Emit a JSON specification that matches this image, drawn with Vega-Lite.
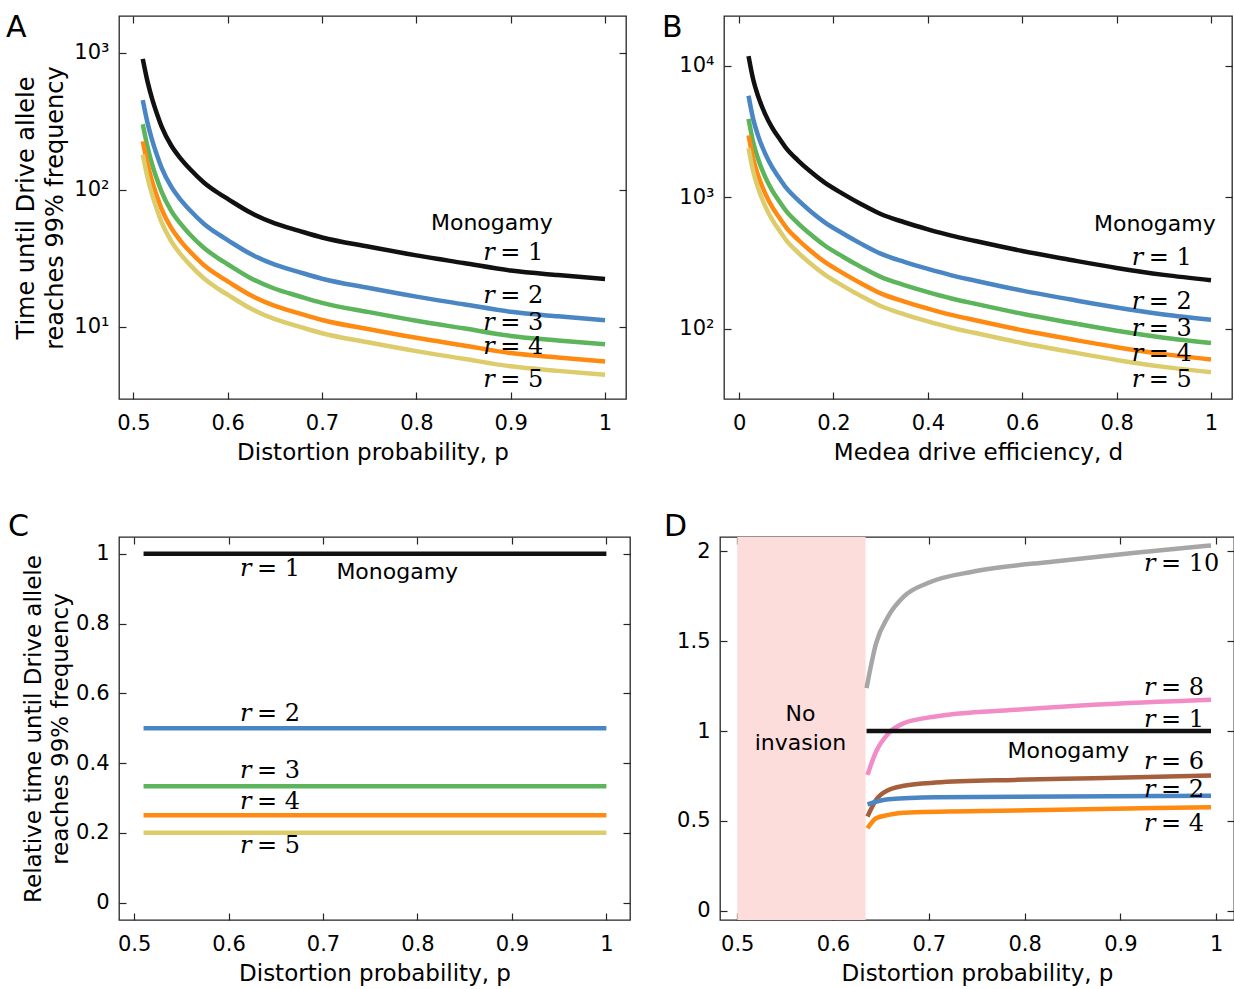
{
  "$schema": "https://vega.github.io/schema/vega-lite/v6.json",
  "background": "white",
  "padding": {"left": 5, "top": 12, "right": 0, "bottom": 0},
  "datasets": {
    "lines": [
      {"panel":"A","series":"r1","x":0.51,"y":905},{"panel":"A","series":"r1","x":0.515,"y":620},{"panel":"A","series":"r1","x":0.52,"y":460},{"panel":"A","series":"r1","x":0.525,"y":360},{"panel":"A","series":"r1","x":0.53,"y":290},{"panel":"A","series":"r1","x":0.54,"y":212},{"panel":"A","series":"r1","x":0.55,"y":170},{"panel":"A","series":"r1","x":0.56,"y":142},{"panel":"A","series":"r1","x":0.575,"y":113},{"panel":"A","series":"r1","x":0.59,"y":95},{"panel":"A","series":"r1","x":0.6,"y":86},{"panel":"A","series":"r1","x":0.625,"y":67.8},{"panel":"A","series":"r1","x":0.65,"y":57},{"panel":"A","series":"r1","x":0.675,"y":50.5},{"panel":"A","series":"r1","x":0.7,"y":45},{"panel":"A","series":"r1","x":0.75,"y":38.5},{"panel":"A","series":"r1","x":0.8,"y":33.3},{"panel":"A","series":"r1","x":0.85,"y":29.3},{"panel":"A","series":"r1","x":0.9,"y":25.8},{"panel":"A","series":"r1","x":0.95,"y":23.9},{"panel":"A","series":"r1","x":1.0,"y":22.4},
      {"panel":"A","series":"r2","x":0.51,"y":452.5},{"panel":"A","series":"r2","x":0.515,"y":310},{"panel":"A","series":"r2","x":0.52,"y":230},{"panel":"A","series":"r2","x":0.525,"y":180},{"panel":"A","series":"r2","x":0.53,"y":145},{"panel":"A","series":"r2","x":0.54,"y":106},{"panel":"A","series":"r2","x":0.55,"y":85},{"panel":"A","series":"r2","x":0.56,"y":71},{"panel":"A","series":"r2","x":0.575,"y":56.5},{"panel":"A","series":"r2","x":0.59,"y":47.5},{"panel":"A","series":"r2","x":0.6,"y":43},{"panel":"A","series":"r2","x":0.625,"y":33.9},{"panel":"A","series":"r2","x":0.65,"y":28.5},{"panel":"A","series":"r2","x":0.675,"y":25.25},{"panel":"A","series":"r2","x":0.7,"y":22.5},{"panel":"A","series":"r2","x":0.75,"y":19.25},{"panel":"A","series":"r2","x":0.8,"y":16.65},{"panel":"A","series":"r2","x":0.85,"y":14.65},{"panel":"A","series":"r2","x":0.9,"y":12.9},{"panel":"A","series":"r2","x":0.95,"y":11.95},{"panel":"A","series":"r2","x":1.0,"y":11.2},
      {"panel":"A","series":"r3","x":0.51,"y":301.7},{"panel":"A","series":"r3","x":0.515,"y":206.7},{"panel":"A","series":"r3","x":0.52,"y":153.3},{"panel":"A","series":"r3","x":0.525,"y":120},{"panel":"A","series":"r3","x":0.53,"y":96.7},{"panel":"A","series":"r3","x":0.54,"y":70.7},{"panel":"A","series":"r3","x":0.55,"y":56.7},{"panel":"A","series":"r3","x":0.56,"y":47.3},{"panel":"A","series":"r3","x":0.575,"y":37.7},{"panel":"A","series":"r3","x":0.59,"y":31.7},{"panel":"A","series":"r3","x":0.6,"y":28.7},{"panel":"A","series":"r3","x":0.625,"y":22.6},{"panel":"A","series":"r3","x":0.65,"y":19},{"panel":"A","series":"r3","x":0.675,"y":16.83},{"panel":"A","series":"r3","x":0.7,"y":15},{"panel":"A","series":"r3","x":0.75,"y":12.83},{"panel":"A","series":"r3","x":0.8,"y":11.1},{"panel":"A","series":"r3","x":0.85,"y":9.77},{"panel":"A","series":"r3","x":0.9,"y":8.6},{"panel":"A","series":"r3","x":0.95,"y":7.97},{"panel":"A","series":"r3","x":1.0,"y":7.47},
      {"panel":"A","series":"r4","x":0.51,"y":226.3},{"panel":"A","series":"r4","x":0.515,"y":155},{"panel":"A","series":"r4","x":0.52,"y":115},{"panel":"A","series":"r4","x":0.525,"y":90},{"panel":"A","series":"r4","x":0.53,"y":72.5},{"panel":"A","series":"r4","x":0.54,"y":53},{"panel":"A","series":"r4","x":0.55,"y":42.5},{"panel":"A","series":"r4","x":0.56,"y":35.5},{"panel":"A","series":"r4","x":0.575,"y":28.25},{"panel":"A","series":"r4","x":0.59,"y":23.75},{"panel":"A","series":"r4","x":0.6,"y":21.5},{"panel":"A","series":"r4","x":0.625,"y":16.95},{"panel":"A","series":"r4","x":0.65,"y":14.25},{"panel":"A","series":"r4","x":0.675,"y":12.63},{"panel":"A","series":"r4","x":0.7,"y":11.25},{"panel":"A","series":"r4","x":0.75,"y":9.63},{"panel":"A","series":"r4","x":0.8,"y":8.33},{"panel":"A","series":"r4","x":0.85,"y":7.33},{"panel":"A","series":"r4","x":0.9,"y":6.45},{"panel":"A","series":"r4","x":0.95,"y":5.98},{"panel":"A","series":"r4","x":1.0,"y":5.6},
      {"panel":"A","series":"r5","x":0.51,"y":181},{"panel":"A","series":"r5","x":0.515,"y":124},{"panel":"A","series":"r5","x":0.52,"y":92},{"panel":"A","series":"r5","x":0.525,"y":72},{"panel":"A","series":"r5","x":0.53,"y":58},{"panel":"A","series":"r5","x":0.54,"y":42.4},{"panel":"A","series":"r5","x":0.55,"y":34},{"panel":"A","series":"r5","x":0.56,"y":28.4},{"panel":"A","series":"r5","x":0.575,"y":22.6},{"panel":"A","series":"r5","x":0.59,"y":19},{"panel":"A","series":"r5","x":0.6,"y":17.2},{"panel":"A","series":"r5","x":0.625,"y":13.56},{"panel":"A","series":"r5","x":0.65,"y":11.4},{"panel":"A","series":"r5","x":0.675,"y":10.1},{"panel":"A","series":"r5","x":0.7,"y":9},{"panel":"A","series":"r5","x":0.75,"y":7.7},{"panel":"A","series":"r5","x":0.8,"y":6.66},{"panel":"A","series":"r5","x":0.85,"y":5.86},{"panel":"A","series":"r5","x":0.9,"y":5.16},{"panel":"A","series":"r5","x":0.95,"y":4.78},{"panel":"A","series":"r5","x":1.0,"y":4.48},

      {"panel":"B","series":"r1","x":0.02,"y":11800},{"panel":"B","series":"r1","x":0.03,"y":7800},{"panel":"B","series":"r1","x":0.04,"y":5900},{"panel":"B","series":"r1","x":0.055,"y":4300},{"panel":"B","series":"r1","x":0.07,"y":3380},{"panel":"B","series":"r1","x":0.085,"y":2800},{"panel":"B","series":"r1","x":0.1,"y":2350},{"panel":"B","series":"r1","x":0.125,"y":1900},{"panel":"B","series":"r1","x":0.15,"y":1580},{"panel":"B","series":"r1","x":0.18,"y":1300},{"panel":"B","series":"r1","x":0.22,"y":1060},{"panel":"B","series":"r1","x":0.26,"y":880},{"panel":"B","series":"r1","x":0.3,"y":745},{"panel":"B","series":"r1","x":0.35,"y":645},{"panel":"B","series":"r1","x":0.4,"y":570},{"panel":"B","series":"r1","x":0.45,"y":510},{"panel":"B","series":"r1","x":0.5,"y":465},{"panel":"B","series":"r1","x":0.6,"y":390},{"panel":"B","series":"r1","x":0.7,"y":335},{"panel":"B","series":"r1","x":0.8,"y":290},{"panel":"B","series":"r1","x":0.9,"y":257},{"panel":"B","series":"r1","x":1.0,"y":234},
      {"panel":"B","series":"r2","x":0.02,"y":5900},{"panel":"B","series":"r2","x":0.03,"y":3900},{"panel":"B","series":"r2","x":0.04,"y":2950},{"panel":"B","series":"r2","x":0.055,"y":2150},{"panel":"B","series":"r2","x":0.07,"y":1690},{"panel":"B","series":"r2","x":0.085,"y":1400},{"panel":"B","series":"r2","x":0.1,"y":1175},{"panel":"B","series":"r2","x":0.125,"y":950},{"panel":"B","series":"r2","x":0.15,"y":790},{"panel":"B","series":"r2","x":0.18,"y":650},{"panel":"B","series":"r2","x":0.22,"y":530},{"panel":"B","series":"r2","x":0.26,"y":440},{"panel":"B","series":"r2","x":0.3,"y":372.5},{"panel":"B","series":"r2","x":0.35,"y":322.5},{"panel":"B","series":"r2","x":0.4,"y":285},{"panel":"B","series":"r2","x":0.45,"y":255},{"panel":"B","series":"r2","x":0.5,"y":232.5},{"panel":"B","series":"r2","x":0.6,"y":195},{"panel":"B","series":"r2","x":0.7,"y":167.5},{"panel":"B","series":"r2","x":0.8,"y":145},{"panel":"B","series":"r2","x":0.9,"y":128.5},{"panel":"B","series":"r2","x":1.0,"y":117},
      {"panel":"B","series":"r3","x":0.02,"y":3933},{"panel":"B","series":"r3","x":0.03,"y":2600},{"panel":"B","series":"r3","x":0.04,"y":1967},{"panel":"B","series":"r3","x":0.055,"y":1433},{"panel":"B","series":"r3","x":0.07,"y":1127},{"panel":"B","series":"r3","x":0.085,"y":933},{"panel":"B","series":"r3","x":0.1,"y":783},{"panel":"B","series":"r3","x":0.125,"y":633},{"panel":"B","series":"r3","x":0.15,"y":527},{"panel":"B","series":"r3","x":0.18,"y":433},{"panel":"B","series":"r3","x":0.22,"y":353},{"panel":"B","series":"r3","x":0.26,"y":293},{"panel":"B","series":"r3","x":0.3,"y":248},{"panel":"B","series":"r3","x":0.35,"y":215},{"panel":"B","series":"r3","x":0.4,"y":190},{"panel":"B","series":"r3","x":0.45,"y":170},{"panel":"B","series":"r3","x":0.5,"y":155},{"panel":"B","series":"r3","x":0.6,"y":130},{"panel":"B","series":"r3","x":0.7,"y":111.7},{"panel":"B","series":"r3","x":0.8,"y":96.7},{"panel":"B","series":"r3","x":0.9,"y":85.7},{"panel":"B","series":"r3","x":1.0,"y":78},
      {"panel":"B","series":"r4","x":0.02,"y":2950},{"panel":"B","series":"r4","x":0.03,"y":1950},{"panel":"B","series":"r4","x":0.04,"y":1475},{"panel":"B","series":"r4","x":0.055,"y":1075},{"panel":"B","series":"r4","x":0.07,"y":845},{"panel":"B","series":"r4","x":0.085,"y":700},{"panel":"B","series":"r4","x":0.1,"y":587.5},{"panel":"B","series":"r4","x":0.125,"y":475},{"panel":"B","series":"r4","x":0.15,"y":395},{"panel":"B","series":"r4","x":0.18,"y":325},{"panel":"B","series":"r4","x":0.22,"y":265},{"panel":"B","series":"r4","x":0.26,"y":220},{"panel":"B","series":"r4","x":0.3,"y":186},{"panel":"B","series":"r4","x":0.35,"y":161},{"panel":"B","series":"r4","x":0.4,"y":142.5},{"panel":"B","series":"r4","x":0.45,"y":127.5},{"panel":"B","series":"r4","x":0.5,"y":116.25},{"panel":"B","series":"r4","x":0.6,"y":97.5},{"panel":"B","series":"r4","x":0.7,"y":83.75},{"panel":"B","series":"r4","x":0.8,"y":72.5},{"panel":"B","series":"r4","x":0.9,"y":64.25},{"panel":"B","series":"r4","x":1.0,"y":58.5},
      {"panel":"B","series":"r5","x":0.02,"y":2360},{"panel":"B","series":"r5","x":0.03,"y":1560},{"panel":"B","series":"r5","x":0.04,"y":1180},{"panel":"B","series":"r5","x":0.055,"y":860},{"panel":"B","series":"r5","x":0.07,"y":676},{"panel":"B","series":"r5","x":0.085,"y":560},{"panel":"B","series":"r5","x":0.1,"y":470},{"panel":"B","series":"r5","x":0.125,"y":380},{"panel":"B","series":"r5","x":0.15,"y":316},{"panel":"B","series":"r5","x":0.18,"y":260},{"panel":"B","series":"r5","x":0.22,"y":212},{"panel":"B","series":"r5","x":0.26,"y":176},{"panel":"B","series":"r5","x":0.3,"y":149},{"panel":"B","series":"r5","x":0.35,"y":129},{"panel":"B","series":"r5","x":0.4,"y":114},{"panel":"B","series":"r5","x":0.45,"y":102},{"panel":"B","series":"r5","x":0.5,"y":93},{"panel":"B","series":"r5","x":0.6,"y":78},{"panel":"B","series":"r5","x":0.7,"y":67},{"panel":"B","series":"r5","x":0.8,"y":58},{"panel":"B","series":"r5","x":0.9,"y":51.4},{"panel":"B","series":"r5","x":1.0,"y":46.8},

      {"panel":"C","series":"r1","x":0.51,"y":1},{"panel":"C","series":"r1","x":1.0,"y":1},
      {"panel":"C","series":"r2","x":0.51,"y":0.5},{"panel":"C","series":"r2","x":1.0,"y":0.5},
      {"panel":"C","series":"r3","x":0.51,"y":0.3333},{"panel":"C","series":"r3","x":1.0,"y":0.3333},
      {"panel":"C","series":"r4","x":0.51,"y":0.25},{"panel":"C","series":"r4","x":1.0,"y":0.25},
      {"panel":"C","series":"r5","x":0.51,"y":0.2},{"panel":"C","series":"r5","x":1.0,"y":0.2},

      {"panel":"D","series":"r10","x":0.635,"y":1.239},{"panel":"D","series":"r10","x":0.645,"y":1.489},{"panel":"D","series":"r10","x":0.6576,"y":1.638},{"panel":"D","series":"r10","x":0.674,"y":1.749},{"panel":"D","series":"r10","x":0.699,"y":1.824},{"panel":"D","series":"r10","x":0.748,"y":1.889},{"panel":"D","series":"r10","x":0.831,"y":1.944},{"panel":"D","series":"r10","x":0.913,"y":1.991},{"panel":"D","series":"r10","x":0.9946,"y":2.033},
      {"panel":"D","series":"r8","x":0.636,"y":0.756},{"panel":"D","series":"r8","x":0.645,"y":0.886},{"panel":"D","series":"r8","x":0.658,"y":0.988},{"panel":"D","series":"r8","x":0.674,"y":1.044},{"panel":"D","series":"r8","x":0.707,"y":1.081},{"panel":"D","series":"r8","x":0.79,"y":1.118},{"panel":"D","series":"r8","x":0.872,"y":1.146},{"panel":"D","series":"r8","x":0.9946,"y":1.174},
      {"panel":"D","series":"r1","x":0.635,"y":1},{"panel":"D","series":"r1","x":0.9946,"y":1},
      {"panel":"D","series":"r6","x":0.636,"y":0.524},{"panel":"D","series":"r6","x":0.645,"y":0.617},{"panel":"D","series":"r6","x":0.658,"y":0.672},{"panel":"D","series":"r6","x":0.674,"y":0.695},{"panel":"D","series":"r6","x":0.707,"y":0.713},{"panel":"D","series":"r6","x":0.79,"y":0.728},{"panel":"D","series":"r6","x":0.872,"y":0.737},{"panel":"D","series":"r6","x":0.9946,"y":0.752},
      {"panel":"D","series":"r2","x":0.636,"y":0.592},{"panel":"D","series":"r2","x":0.658,"y":0.62},{"panel":"D","series":"r2","x":0.707,"y":0.631},{"panel":"D","series":"r2","x":0.9946,"y":0.64},
      {"panel":"D","series":"r4","x":0.636,"y":0.459},{"panel":"D","series":"r4","x":0.645,"y":0.514},{"panel":"D","series":"r4","x":0.658,"y":0.533},{"panel":"D","series":"r4","x":0.68,"y":0.546},{"panel":"D","series":"r4","x":0.79,"y":0.557},{"panel":"D","series":"r4","x":0.9946,"y":0.576}
    ],
    "rlabels": [
      {"panel":"A","x":0.8708,"y":34.7,"v":"r","eq":"= 1"},{"panel":"A","x":0.8708,"y":16.8,"v":"r","eq":"= 2"},{"panel":"A","x":0.8708,"y":10.7,"v":"r","eq":"= 3"},{"panel":"A","x":0.8708,"y":7.14,"v":"r","eq":"= 4"},{"panel":"A","x":0.8708,"y":4.1,"v":"r","eq":"= 5"},
      {"panel":"B","x":0.832,"y":347,"v":"r","eq":"= 1"},{"panel":"B","x":0.832,"y":160,"v":"r","eq":"= 2"},{"panel":"B","x":0.832,"y":100,"v":"r","eq":"= 3"},{"panel":"B","x":0.832,"y":64.6,"v":"r","eq":"= 4"},{"panel":"B","x":0.832,"y":40.8,"v":"r","eq":"= 5"},
      {"panel":"C","x":0.612,"y":0.957,"v":"r","eq":"= 1"},{"panel":"C","x":0.612,"y":0.54,"v":"r","eq":"= 2"},{"panel":"C","x":0.612,"y":0.3775,"v":"r","eq":"= 3"},{"panel":"C","x":0.612,"y":0.2877,"v":"r","eq":"= 4"},{"panel":"C","x":0.612,"y":0.1635,"v":"r","eq":"= 5"},
      {"panel":"D","x":0.9247,"y":1.93,"v":"r","eq":"= 10"},{"panel":"D","x":0.9247,"y":1.241,"v":"r","eq":"= 8"},{"panel":"D","x":0.9247,"y":1.064,"v":"r","eq":"= 1"},{"panel":"D","x":0.9247,"y":0.829,"v":"r","eq":"= 6"},{"panel":"D","x":0.9247,"y":0.671,"v":"r","eq":"= 2"},{"panel":"D","x":0.9247,"y":0.483,"v":"r","eq":"= 4"}
    ],
    "notes": [
      {"panel":"A","x":0.88,"y":57.4,"text":"Monogamy"},
      {"panel":"B","x":0.881,"y":628,"text":"Monogamy"},
      {"panel":"C","x":0.7786,"y":0.947,"text":"Monogamy"},
      {"panel":"D","x":0.8457,"y":0.8875,"text":"Monogamy"},
      {"panel":"D","x":0.566,"y":1.093,"text":"No"},
      {"panel":"D","x":0.566,"y":0.932,"text":"invasion"}
    ],
    "shade": [{"panel":"D","x":0.5,"x2":0.634}]
  },
  "vconcat": [
    {
      "spacing": 33,
      "hconcat": [
        {
          "width": 507, "height": 383,
          "title": {"text": "A", "anchor": "start", "frame": "group", "dx": -113, "offset": -52, "baseline": "alphabetic"},
          "layer": [
            {"data": {"name": "lines"}, "transform": [{"filter": "datum.panel == 'A'"}],
             "mark": {"type": "line", "strokeWidth": 4.5, "strokeCap": "butt", "interpolate": "monotone"},
             "encoding": {
               "x": {"field": "x", "type": "quantitative", "scale": {"domain": [0.4848, 1.0222], "nice": false, "zero": false}, "axis": {"values": [0.5,0.6,0.7,0.8,0.9,1], "format": "~g", "title": "Distortion probability, p"}},
               "y": {"field": "y", "type": "quantitative", "scale": {"type": "log", "domain": [2.98, 1860], "nice": false}, "axis": {"values": [10,100,1000], "labelExpr": "datum.value == 10 ? '10¹' : datum.value == 100 ? '10²' : '10³'", "title": ["Time until Drive allele", "reaches 99% frequency"]}},
               "color": {"field": "series", "type": "nominal", "scale": {"domain": ["r1","r2","r3","r4","r5","r6","r8","r10"], "range": ["#111111","#4a86c4","#5cb55a","#ff8a12","#dccc6c","#a65f3c","#f28cc6","#a6a6a6"]}, "legend": null}
             }},
            {"data": {"name": "rlabels"}, "transform": [{"filter": "datum.panel == 'A'"}],
             "mark": {"type": "text", "font": "DejaVu Serif", "fontStyle": "italic", "fontSize": 24, "align": "left", "baseline": "middle"},
             "encoding": {"x": {"field": "x", "type": "quantitative", "scale": {"domain": [0.4848, 1.0222], "nice": false, "zero": false}, "axis": null}, "y": {"field": "y", "type": "quantitative", "scale": {"type": "log", "domain": [2.98, 1860], "nice": false}, "axis": null}, "text": {"field": "v"}}},
            {"data": {"name": "rlabels"}, "transform": [{"filter": "datum.panel == 'A'"}],
             "mark": {"type": "text", "font": "DejaVu Serif", "fontSize": 24, "align": "left", "baseline": "middle", "dx": 17},
             "encoding": {"x": {"field": "x", "type": "quantitative", "scale": {"domain": [0.4848, 1.0222], "nice": false, "zero": false}, "axis": null}, "y": {"field": "y", "type": "quantitative", "scale": {"type": "log", "domain": [2.98, 1860], "nice": false}, "axis": null}, "text": {"field": "eq"}}},
            {"data": {"name": "notes"}, "transform": [{"filter": "datum.panel == 'A'"}],
             "mark": {"type": "text", "font": "DejaVu Sans", "fontSize": 22, "align": "center", "baseline": "middle"},
             "encoding": {"x": {"field": "x", "type": "quantitative", "scale": {"domain": [0.4848, 1.0222], "nice": false, "zero": false}, "axis": null}, "y": {"field": "y", "type": "quantitative", "scale": {"type": "log", "domain": [2.98, 1860], "nice": false}, "axis": null}, "text": {"field": "text"}}},
            {"data": {"name": "notes"}, "transform": [{"filter": "datum.panel == 'A'"}],
             "mark": {"type": "point", "opacity": 0},
             "encoding": {"x": {"field": "x", "type": "quantitative", "scale": {"domain": [0.4848, 1.0222], "nice": false, "zero": false}, "axis": {"orient": "top", "values": [0.5,0.6,0.7,0.8,0.9,1], "labels": false, "title": null, "minExtent": 0, "maxExtent": 0}}, "y": {"field": "y", "type": "quantitative", "scale": {"type": "log", "domain": [2.98, 1860], "nice": false}, "axis": {"orient": "right", "values": [10,100,1000], "labels": false, "title": null, "minExtent": 0, "maxExtent": 0}}}}
          ],
          "resolve": {"axis": {"x": "independent", "y": "independent"}}
        },
        {
          "width": 508, "height": 383,
          "title": {"text": "B", "anchor": "start", "frame": "group", "dx": -62, "offset": -52, "baseline": "alphabetic"},
          "layer": [
            {"data": {"name": "lines"}, "transform": [{"filter": "datum.panel == 'B'"}],
             "mark": {"type": "line", "strokeWidth": 4.5, "strokeCap": "butt", "interpolate": "monotone"},
             "encoding": {
               "x": {"field": "x", "type": "quantitative", "scale": {"domain": [-0.032, 1.0445], "nice": false, "zero": false}, "axis": {"values": [0,0.2,0.4,0.6,0.8,1], "format": "~g", "title": "Medea drive efficiency, d"}},
               "y": {"field": "y", "type": "quantitative", "scale": {"type": "log", "domain": [29.3, 23800], "nice": false}, "axis": {"values": [100,1000,10000], "labelExpr": "datum.value == 100 ? '10²' : datum.value == 1000 ? '10³' : '10⁴'", "title": null}},
               "color": {"field": "series", "type": "nominal", "scale": {"domain": ["r1","r2","r3","r4","r5","r6","r8","r10"], "range": ["#111111","#4a86c4","#5cb55a","#ff8a12","#dccc6c","#a65f3c","#f28cc6","#a6a6a6"]}, "legend": null}
             }},
            {"data": {"name": "rlabels"}, "transform": [{"filter": "datum.panel == 'B'"}],
             "mark": {"type": "text", "font": "DejaVu Serif", "fontStyle": "italic", "fontSize": 24, "align": "left", "baseline": "middle"},
             "encoding": {"x": {"field": "x", "type": "quantitative", "scale": {"domain": [-0.032, 1.0445], "nice": false, "zero": false}, "axis": null}, "y": {"field": "y", "type": "quantitative", "scale": {"type": "log", "domain": [29.3, 23800], "nice": false}, "axis": null}, "text": {"field": "v"}}},
            {"data": {"name": "rlabels"}, "transform": [{"filter": "datum.panel == 'B'"}],
             "mark": {"type": "text", "font": "DejaVu Serif", "fontSize": 24, "align": "left", "baseline": "middle", "dx": 17},
             "encoding": {"x": {"field": "x", "type": "quantitative", "scale": {"domain": [-0.032, 1.0445], "nice": false, "zero": false}, "axis": null}, "y": {"field": "y", "type": "quantitative", "scale": {"type": "log", "domain": [29.3, 23800], "nice": false}, "axis": null}, "text": {"field": "eq"}}},
            {"data": {"name": "notes"}, "transform": [{"filter": "datum.panel == 'B'"}],
             "mark": {"type": "text", "font": "DejaVu Sans", "fontSize": 22, "align": "center", "baseline": "middle"},
             "encoding": {"x": {"field": "x", "type": "quantitative", "scale": {"domain": [-0.032, 1.0445], "nice": false, "zero": false}, "axis": null}, "y": {"field": "y", "type": "quantitative", "scale": {"type": "log", "domain": [29.3, 23800], "nice": false}, "axis": null}, "text": {"field": "text"}}},
            {"data": {"name": "notes"}, "transform": [{"filter": "datum.panel == 'B'"}],
             "mark": {"type": "point", "opacity": 0},
             "encoding": {"x": {"field": "x", "type": "quantitative", "scale": {"domain": [-0.032, 1.0445], "nice": false, "zero": false}, "axis": {"orient": "top", "values": [0,0.2,0.4,0.6,0.8,1], "labels": false, "title": null, "minExtent": 0, "maxExtent": 0}}, "y": {"field": "y", "type": "quantitative", "scale": {"type": "log", "domain": [29.3, 23800], "nice": false}, "axis": {"orient": "right", "values": [100,1000,10000], "labels": false, "title": null, "minExtent": 0, "maxExtent": 0}}}}
          ],
          "resolve": {"axis": {"x": "independent", "y": "independent"}}
        }
      ]
    },
    {
      "spacing": 31,
      "hconcat": [
        {
          "width": 511, "height": 383,
          "title": {"text": "C", "anchor": "start", "frame": "group", "dx": -111, "offset": -30, "baseline": "alphabetic"},
          "layer": [
            {"data": {"name": "lines"}, "transform": [{"filter": "datum.panel == 'C'"}],
             "mark": {"type": "line", "strokeWidth": 4.5, "strokeCap": "butt"},
             "encoding": {
               "x": {"field": "x", "type": "quantitative", "scale": {"domain": [0.484, 1.025], "nice": false, "zero": false}, "axis": {"values": [0.5,0.6,0.7,0.8,0.9,1], "format": "~g", "title": "Distortion probability, p"}},
               "y": {"field": "y", "type": "quantitative", "scale": {"domain": [-0.05, 1.048], "nice": false, "zero": false}, "axis": {"values": [0,0.2,0.4,0.6,0.8,1], "format": "~g", "titlePadding": 3, "titleFontSize": 23, "titleLineHeight": 27, "title": ["Relative time until Drive allele", "reaches 99% frequency"]}},
               "color": {"field": "series", "type": "nominal", "scale": {"domain": ["r1","r2","r3","r4","r5","r6","r8","r10"], "range": ["#111111","#4a86c4","#5cb55a","#ff8a12","#dccc6c","#a65f3c","#f28cc6","#a6a6a6"]}, "legend": null}
             }},
            {"data": {"name": "rlabels"}, "transform": [{"filter": "datum.panel == 'C'"}],
             "mark": {"type": "text", "font": "DejaVu Serif", "fontStyle": "italic", "fontSize": 24, "align": "left", "baseline": "middle"},
             "encoding": {"x": {"field": "x", "type": "quantitative", "scale": {"domain": [0.484, 1.025], "nice": false, "zero": false}, "axis": null}, "y": {"field": "y", "type": "quantitative", "scale": {"domain": [-0.05, 1.048], "nice": false, "zero": false}, "axis": null}, "text": {"field": "v"}}},
            {"data": {"name": "rlabels"}, "transform": [{"filter": "datum.panel == 'C'"}],
             "mark": {"type": "text", "font": "DejaVu Serif", "fontSize": 24, "align": "left", "baseline": "middle", "dx": 17},
             "encoding": {"x": {"field": "x", "type": "quantitative", "scale": {"domain": [0.484, 1.025], "nice": false, "zero": false}, "axis": null}, "y": {"field": "y", "type": "quantitative", "scale": {"domain": [-0.05, 1.048], "nice": false, "zero": false}, "axis": null}, "text": {"field": "eq"}}},
            {"data": {"name": "notes"}, "transform": [{"filter": "datum.panel == 'C'"}],
             "mark": {"type": "text", "font": "DejaVu Sans", "fontSize": 22, "align": "center", "baseline": "middle"},
             "encoding": {"x": {"field": "x", "type": "quantitative", "scale": {"domain": [0.484, 1.025], "nice": false, "zero": false}, "axis": null}, "y": {"field": "y", "type": "quantitative", "scale": {"domain": [-0.05, 1.048], "nice": false, "zero": false}, "axis": null}, "text": {"field": "text"}}},
            {"data": {"name": "notes"}, "transform": [{"filter": "datum.panel == 'C'"}],
             "mark": {"type": "point", "opacity": 0},
             "encoding": {"x": {"field": "x", "type": "quantitative", "scale": {"domain": [0.484, 1.025], "nice": false, "zero": false}, "axis": {"orient": "top", "values": [0.5,0.6,0.7,0.8,0.9,1], "labels": false, "title": null, "minExtent": 0, "maxExtent": 0}}, "y": {"field": "y", "type": "quantitative", "scale": {"domain": [-0.05, 1.048], "nice": false, "zero": false}, "axis": {"orient": "right", "values": [0,0.2,0.4,0.6,0.8,1], "labels": false, "title": null, "minExtent": 0, "maxExtent": 0}}}}
          ],
          "resolve": {"axis": {"x": "independent", "y": "independent"}}
        },
        {
          "width": 514, "height": 383,
          "title": {"text": "D", "anchor": "start", "frame": "group", "dx": -56, "offset": -30, "baseline": "alphabetic"},
          "layer": [
            {"data": {"name": "shade"},
             "mark": {"type": "rect", "color": "#fddcdc"},
             "encoding": {"x": {"field": "x", "type": "quantitative", "scale": {"domain": [0.482, 1.0186], "nice": false, "zero": false}, "axis": null}, "x2": {"field": "x2"}}},
            {"data": {"name": "lines"}, "transform": [{"filter": "datum.panel == 'D'"}],
             "mark": {"type": "line", "strokeWidth": 4.5, "strokeCap": "butt", "interpolate": "monotone"},
             "encoding": {
               "x": {"field": "x", "type": "quantitative", "scale": {"domain": [0.482, 1.0186], "nice": false, "zero": false}, "axis": {"values": [0.5,0.6,0.7,0.8,0.9,1], "format": "~g", "title": "Distortion probability, p"}},
               "y": {"field": "y", "type": "quantitative", "scale": {"domain": [-0.052, 2.08], "nice": false, "zero": false}, "axis": {"values": [0,0.5,1,1.5,2], "format": "~g", "title": null}},
               "color": {"field": "series", "type": "nominal", "scale": {"domain": ["r1","r2","r3","r4","r5","r6","r8","r10"], "range": ["#111111","#4a86c4","#5cb55a","#ff8a12","#dccc6c","#a65f3c","#f28cc6","#a6a6a6"]}, "legend": null}
             }},
            {"data": {"name": "rlabels"}, "transform": [{"filter": "datum.panel == 'D'"}],
             "mark": {"type": "text", "font": "DejaVu Serif", "fontStyle": "italic", "fontSize": 24, "align": "left", "baseline": "middle"},
             "encoding": {"x": {"field": "x", "type": "quantitative", "scale": {"domain": [0.482, 1.0186], "nice": false, "zero": false}, "axis": null}, "y": {"field": "y", "type": "quantitative", "scale": {"domain": [-0.052, 2.08], "nice": false, "zero": false}, "axis": null}, "text": {"field": "v"}}},
            {"data": {"name": "rlabels"}, "transform": [{"filter": "datum.panel == 'D'"}],
             "mark": {"type": "text", "font": "DejaVu Serif", "fontSize": 24, "align": "left", "baseline": "middle", "dx": 17},
             "encoding": {"x": {"field": "x", "type": "quantitative", "scale": {"domain": [0.482, 1.0186], "nice": false, "zero": false}, "axis": null}, "y": {"field": "y", "type": "quantitative", "scale": {"domain": [-0.052, 2.08], "nice": false, "zero": false}, "axis": null}, "text": {"field": "eq"}}},
            {"data": {"name": "notes"}, "transform": [{"filter": "datum.panel == 'D'"}],
             "mark": {"type": "text", "font": "DejaVu Sans", "fontSize": 22, "align": "center", "baseline": "middle"},
             "encoding": {"x": {"field": "x", "type": "quantitative", "scale": {"domain": [0.482, 1.0186], "nice": false, "zero": false}, "axis": null}, "y": {"field": "y", "type": "quantitative", "scale": {"domain": [-0.052, 2.08], "nice": false, "zero": false}, "axis": null}, "text": {"field": "text"}}},
            {"data": {"name": "notes"}, "transform": [{"filter": "datum.panel == 'D'"}],
             "mark": {"type": "point", "opacity": 0},
             "encoding": {"x": {"field": "x", "type": "quantitative", "scale": {"domain": [0.482, 1.0186], "nice": false, "zero": false}, "axis": {"orient": "top", "values": [0.5,0.6,0.7,0.8,0.9,1], "labels": false, "title": null, "minExtent": 0, "maxExtent": 0}}, "y": {"field": "y", "type": "quantitative", "scale": {"domain": [-0.052, 2.08], "nice": false, "zero": false}, "axis": {"orient": "right", "values": [0,0.5,1,1.5,2], "labels": false, "title": null, "minExtent": 0, "maxExtent": 0}}}}
          ],
          "resolve": {"axis": {"x": "independent", "y": "independent"}}
        }
      ]
    }
  ],
  "spacing": 46,
  "config": {
    "font": "DejaVu Sans",
    "view": {"stroke": "#262626", "strokeWidth": 1.3},
    "title": {"font": "DejaVu Sans", "fontSize": 30, "fontWeight": "normal", "color": "#000000"},
    "axis": {"domain": false, "grid": false, "tickSize": -7, "tickColor": "#262626", "tickWidth": 1.2, "labelFont": "DejaVu Sans", "labelFontSize": 21, "labelColor": "#000000", "labelFlush": false, "titleFont": "DejaVu Sans", "titleFontSize": 23, "titleFontWeight": "normal", "titleColor": "#000000", "labelPadding": 20},
    "axisY": {"titleFontSize": 24, "titleLineHeight": 29, "labelPadding": 17, "titlePadding": 6},
    "axisX": {"titlePadding": 8}
  }
}
